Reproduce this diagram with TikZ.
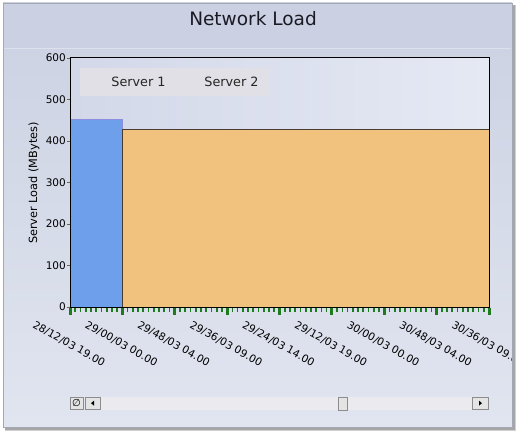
\documentclass[tikz,border=0pt]{standalone}
\usepackage{fontspec}
\setmainfont{DejaVu Sans}
\definecolor{bgtop}{HTML}{CBD1E2}
\definecolor{bgbot}{HTML}{E1E5F0}
\definecolor{framec}{HTML}{A4A8B2}
\definecolor{sepc}{HTML}{DDE1EC}
\definecolor{plotL}{HTML}{D3D8E9}
\definecolor{plotR}{HTML}{E5E9F4}
\definecolor{legc}{HTML}{E0E0E6}
\definecolor{blueb}{HTML}{6E9FEB}
\definecolor{blueedge}{HTML}{8C8FE0}
\definecolor{orangeb}{HTML}{F0C27D}
\definecolor{orangeedge}{HTML}{4A3C30}
\definecolor{tickg}{HTML}{1F7A1F}
\definecolor{btnc}{HTML}{E4E4E4}
\definecolor{trackc}{HTML}{EBEBEF}
\definecolor{txtc}{HTML}{1A1A24}
\tikzset{
  titlestyle/.style={font=\fontsize{18.5}{20}\selectfont, text=txtc, inner sep=0pt},
  legtext/.style={font=\fontsize{12.8}{14}\selectfont, text=black!85, inner sep=0pt},
  ylab/.style={font=\fontsize{10.5}{12}\selectfont, text=black, inner sep=0pt, anchor=east},
  xlab/.style={font=\fontsize{10.5}{12}\selectfont, text=black, inner sep=0pt, rotate=-29},
  ytitle/.style={font=\fontsize{11.3}{13}\selectfont, text=black, inner sep=0pt, rotate=90},
  majortick/.style={draw=tickg, line width=3pt},
  minortick/.style={draw=tickg, line width=1.7pt},
  btn/.style={fill=btnc, draw=black!45, line width=0.6pt},
}
\begin{document}
\begin{tikzpicture}[x=1pt,y=-1pt]
\useasboundingbox (0,0) rectangle (517,433);
% shadow
\fill[black!30] (6,6) rectangle (515,430);
\fill[black!18] (5,5) rectangle (516,431);
\fill[black!35] (5,5) rectangle (514.5,429.5);
% background
\shade[top color=bgtop, bottom color=bgbot] (3,3) rectangle (512,427);
\fill[bgtop] (3,3) rectangle (512,48);
\draw[sepc, line width=1pt] (4,48.5) -- (511,48.5);
\draw[framec, line width=0.8pt] (3,3) rectangle (512,427);
% title
\node[titlestyle] (title) at (253,19) {Network Load};
% plot area
\shade[left color=plotL, right color=plotR] (70,58) rectangle (489,307);
\fill[legc] (80,68) rectangle (270,96);
\node[legtext] (leg1) at (138.5,81.5) {Server 1};
\node[legtext] (leg2) at (231.5,81.5) {Server 2};
% bars
\fill[blueb] (70,120) rectangle (122,307);
\draw[blueedge, line width=1pt] (70,120) -- (122,120) -- (122,307);
\fill[orangeb] (122,130) rectangle (489,307);
\draw[orangeedge, line width=1pt] (122,307) -- (122,130) -- (489,130);
\draw[black, line width=1pt] (70,58) rectangle (489,307);
% y axis
\foreach \v [count=\i] in {0,100,200,300,400,500,600}{
  \draw[black!60, line width=0.6pt] (66.5,{307-41.5*(\i-1)}) -- (70,{307-41.5*(\i-1)});
  \node[ylab] (yl\i) at (66,{307-41.5*(\i-1)}) {\v};
}
\node[ytitle] (ytitle) at (34,183) {Server Load (MBytes)};
% x ticks
\foreach \k in {0,...,79}{
  \draw[minortick] ({70+5.2375*\k},307.5) -- ({70+5.2375*\k},311.5);
}
\foreach \k in {0,...,8}{
  \draw[majortick] ({70+52.375*\k},307.5) -- ({70+52.375*\k},315);
}
\begin{scope}
\clip (3,300) rectangle (511.5,390);
\foreach \t [count=\i from 0] in {28/12/03 19.00,29/00/03 00.00,29/48/03 04.00,29/36/03 09.00,29/24/03 14.00,29/12/03 19.00,30/00/03 00.00,30/48/03 04.00,30/36/03 09.00}{
  \node[xlab] (xl\i) at ({69+52.375*\i},344) {\t};
}
\end{scope}
% scrollbar
\fill[trackc] (100,397) rectangle (474,409.5);
\draw[btn] (70,397) rectangle (83,409.5);
\node[inner sep=0pt, font=\fontsize{10}{10}\selectfont] (nullbtn) at (76.5,403.2) {∅};
\draw[btn] (85,397) rectangle (100.5,409.5);
\fill[black] (91,403.2) -- (94,400.7) -- (94,405.7) -- cycle;
\draw[btn] (338,397) rectangle (347,410);
\draw[btn] (472,397) rectangle (488,409.5);
\fill[black] (482,403.2) -- (479,400.7) -- (479,405.7) -- cycle;
\end{tikzpicture}
\end{document}
